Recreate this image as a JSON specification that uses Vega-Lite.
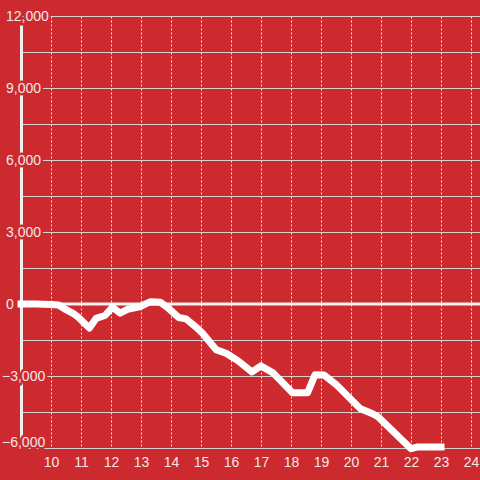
{
  "$schema": "https://vega.github.io/schema/vega-lite/v6.json",
  "width": 459,
  "height": 432,
  "autosize": {"type": "none"},
  "padding": {"left": 21, "top": 16, "right": 0, "bottom": 32},
  "background": "#cc2a2f",
  "config": {
    "view": {"stroke": null},
    "font": "Liberation Sans",
    "axisX": {
      "title": null, "grid": true, "gridDash": [2, 2], "gridColor": "#e8e8e8", "gridWidth": 1,
      "tickCount": 15, "labelExpr": "datum.value < 10 ? '' : datum.label",
      "domain": false, "ticks": false, "labelFlush": false, "labelOverlap": false,
      "labelColor": "#f4e6e6", "labelFontSize": 14, "labelPadding": 7, "labelFont": "Liberation Sans"
    },
    "axisY": {
      "title": null, "grid": true, "gridColor": "#d4d4d4", "gridWidth": 1,
      "labels": false, "ticks": false,
      "domain": true, "domainColor": "#f0f0f0", "domainWidth": 3
    }
  },
  "datasets": {
    "series": [
      {"h": 9.0, "v": 0},
      {"h": 9.5, "v": 0},
      {"h": 10.0, "v": -20},
      {"h": 10.25, "v": -40},
      {"h": 10.45, "v": -200},
      {"h": 10.75, "v": -400},
      {"h": 10.9, "v": -540},
      {"h": 11.28, "v": -1000},
      {"h": 11.5, "v": -600},
      {"h": 11.8, "v": -480},
      {"h": 12.05, "v": -130},
      {"h": 12.3, "v": -380},
      {"h": 12.55, "v": -220},
      {"h": 12.95, "v": -120},
      {"h": 13.3, "v": 90},
      {"h": 13.65, "v": 70},
      {"h": 13.9, "v": -160},
      {"h": 14.25, "v": -560},
      {"h": 14.5, "v": -620},
      {"h": 14.85, "v": -980},
      {"h": 15.05, "v": -1220},
      {"h": 15.5, "v": -1900},
      {"h": 15.85, "v": -2060},
      {"h": 16.25, "v": -2380},
      {"h": 16.7, "v": -2830},
      {"h": 17.0, "v": -2580},
      {"h": 17.4, "v": -2870},
      {"h": 18.05, "v": -3700},
      {"h": 18.55, "v": -3700},
      {"h": 18.8, "v": -2950},
      {"h": 19.1, "v": -2960},
      {"h": 19.5, "v": -3350},
      {"h": 20.3, "v": -4350},
      {"h": 20.7, "v": -4560},
      {"h": 20.9, "v": -4700},
      {"h": 22.0, "v": -6030},
      {"h": 22.2, "v": -5960},
      {"h": 23.0, "v": -5960}
    ],
    "ticks": [
      {"v": 12000}, {"v": 9000}, {"v": 6000}, {"v": 3000}, {"v": 0}, {"v": -3000}, {"v": -6000}
    ]
  },
  "encoding": {
    "y": {
      "field": "v", "type": "quantitative",
      "scale": {"domain": [-6000, 12000], "nice": false},
      "axis": {"values": [-6000, -4500, -3000, -1500, 0, 1500, 3000, 4500, 6000, 7500, 9000, 10500, 12000]}
    }
  },
  "layer": [
    {
      "data": {"name": "series"},
      "mark": {"type": "line", "opacity": 0},
      "encoding": {"x": {"field": "h", "type": "quantitative", "scale": {"domain": [9, 24.3], "nice": false, "zero": false}}}
    },
    {
      "data": {"name": "ticks"},
      "transform": [{"filter": "datum.v == 0"}],
      "mark": {"type": "rule", "stroke": "#f4f4f4", "strokeWidth": 3}
    },
    {
      "data": {"name": "ticks"},
      "transform": [{"filter": "datum.v >= 0"}],
      "mark": {"type": "text", "fill": "#cc2a2f", "stroke": "#cc2a2f", "strokeWidth": 5, "fontSize": 14, "align": "left", "baseline": "middle", "dx": -15, "dy": 1},
      "encoding": {"x": {"datum": 9}, "text": {"field": "v", "type": "quantitative", "format": ","}}
    },
    {
      "data": {"name": "ticks"},
      "transform": [{"filter": "datum.v == -3000"}],
      "mark": {"type": "text", "fill": "#cc2a2f", "stroke": "#cc2a2f", "strokeWidth": 5, "fontSize": 14, "align": "left", "baseline": "middle", "dx": -19, "dy": 1},
      "encoding": {"x": {"datum": 9}, "text": {"field": "v", "type": "quantitative", "format": ","}}
    },
    {
      "data": {"name": "ticks"},
      "transform": [{"filter": "datum.v == -6000"}],
      "mark": {"type": "text", "fill": "#cc2a2f", "stroke": "#cc2a2f", "strokeWidth": 5, "fontSize": 14, "align": "left", "baseline": "alphabetic", "dx": -19, "dy": -1},
      "encoding": {"x": {"datum": 9}, "text": {"field": "v", "type": "quantitative", "format": ","}}
    },
    {
      "data": {"name": "series"},
      "mark": {"type": "line", "stroke": "#ffffff", "strokeWidth": 7, "strokeCap": "square", "strokeJoin": "round"},
      "encoding": {"x": {"field": "h", "type": "quantitative"}}
    },
    {
      "data": {"name": "ticks"},
      "transform": [{"filter": "datum.v >= 0"}],
      "mark": {"type": "text", "fill": "#f4e6e6", "fontSize": 14, "align": "left", "baseline": "middle", "dx": -15, "dy": 1},
      "encoding": {"x": {"datum": 9}, "text": {"field": "v", "type": "quantitative", "format": ","}}
    },
    {
      "data": {"name": "ticks"},
      "transform": [{"filter": "datum.v == -3000"}],
      "mark": {"type": "text", "fill": "#f4e6e6", "fontSize": 14, "align": "left", "baseline": "middle", "dx": -19, "dy": 1},
      "encoding": {"x": {"datum": 9}, "text": {"field": "v", "type": "quantitative", "format": ","}}
    },
    {
      "data": {"name": "ticks"},
      "transform": [{"filter": "datum.v == -6000"}],
      "mark": {"type": "text", "fill": "#f4e6e6", "fontSize": 14, "align": "left", "baseline": "alphabetic", "dx": -19, "dy": -1},
      "encoding": {"x": {"datum": 9}, "text": {"field": "v", "type": "quantitative", "format": ","}}
    }
  ]
}
